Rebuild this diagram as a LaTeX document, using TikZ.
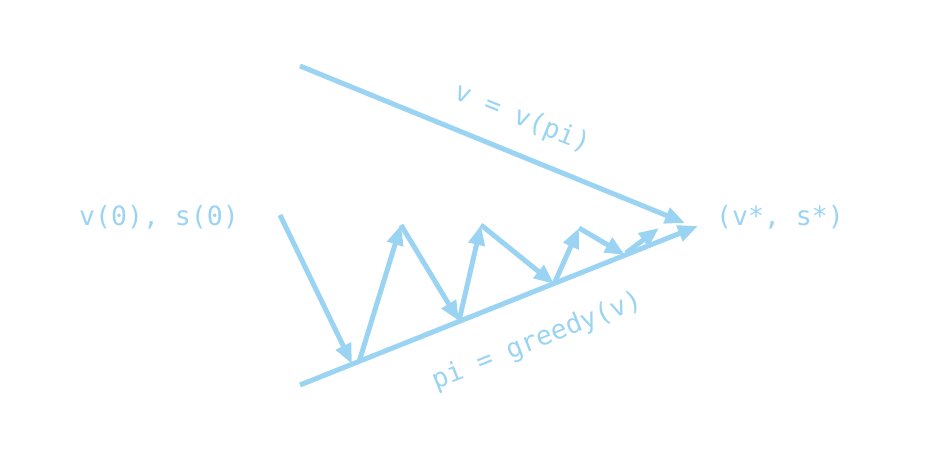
\documentclass[tikz,border=0pt]{standalone}
\usepackage{fontspec}
\setmonofont{DejaVu Sans Mono}
\usetikzlibrary{arrows.meta}
\definecolor{lb}{RGB}{155,212,243}
\tikzset{
  ln/.style={draw=lb,line width=5pt,line cap=butt},
  arr/.style={ln,-{Triangle[length=20pt,width=16pt]}},
  lbl/.style={text=lb,font=\ttfamily\fontsize{26.5}{26.5}\selectfont,inner sep=0pt}
}
\begin{document}
\begin{tikzpicture}[x=1pt,y=-1pt]
\useasboundingbox (0,0) rectangle (940,455);
\node[lbl] (start) at (159,217) {v(0), s(0)};
\node[lbl] (end) at (780,217) {(v*, s*)};
\node[lbl,rotate=-22] (vl) at (522,119) {v = v(pi)};
\node[lbl,rotate=21.7] (pl) at (537,341) {pi = greedy(v)};
\coordinate (u0) at (300,66);
\coordinate (u1) at (685,223);
\coordinate (l0) at (300,385);
\coordinate (l1) at (698,226);
\coordinate (s0) at (280,215);
\coordinate (p1) at (352,364);
\coordinate (q1) at (359,362);
\coordinate (t1) at (401,225);
\coordinate (p2) at (459,321);
\coordinate (t2) at (481,225);
\coordinate (p3) at (554,284);
\coordinate (t3) at (579,228);
\coordinate (p4) at (625,255);
\coordinate (q4) at (626,253);
\coordinate (t4) at (659,228);
\draw[arr] (u0) -- (u1);
\draw[arr] (l0) -- (l1);
\draw[arr] (s0) -- (p1);
\draw[arr] (q1) -- (t1);
\draw[arr] (t1) -- (p2);
\draw[arr] (p2) -- (t2);
\draw[arr] (t2) -- (p3);
\draw[arr] (p3) -- (t3);
\draw[arr] (t3) -- (p4);
\draw[arr] (q4) -- (t4);
\end{tikzpicture}
\end{document}
